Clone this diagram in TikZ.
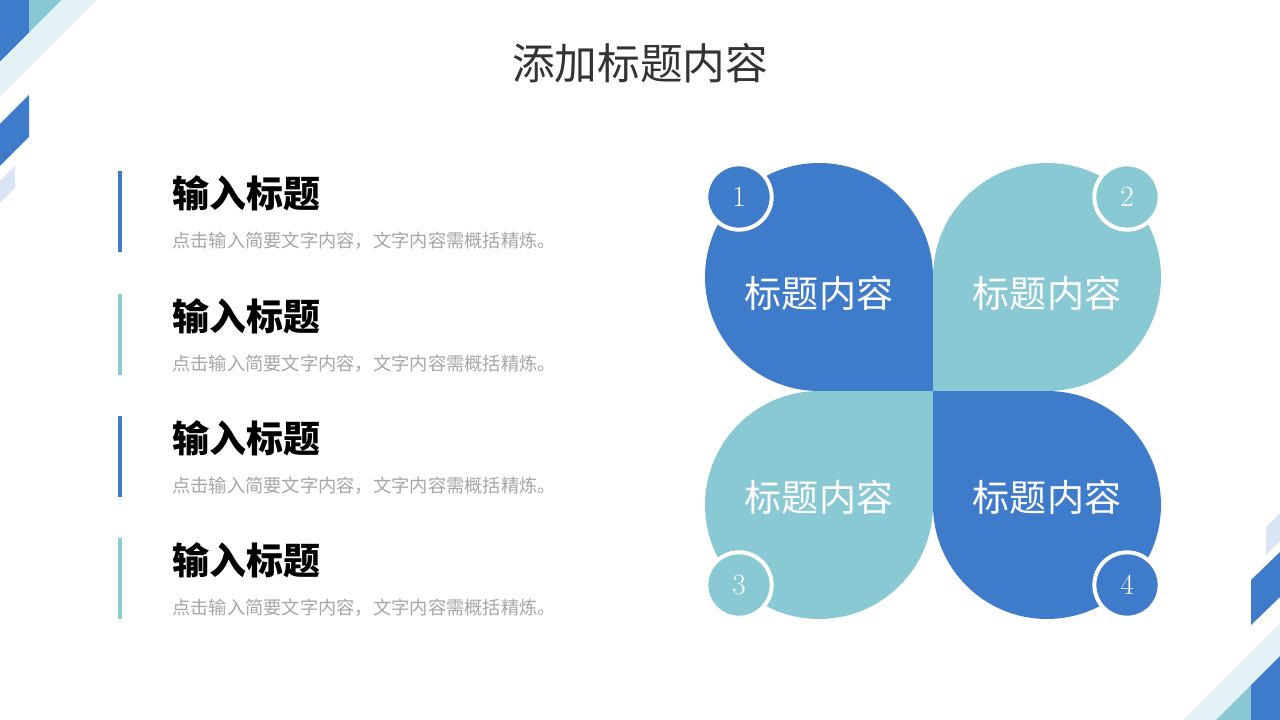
\documentclass[tikz,border=0pt]{standalone}
\usepackage{fontspec}
\newfontfamily\cjk{Noto Sans CJK SC}
\usetikzlibrary{positioning}
\definecolor{petalblue}{HTML}{3F7BCB}
\definecolor{petalteal}{HTML}{89C9D3}
\definecolor{bandlight}{HTML}{E3F2F6}
\definecolor{palebox}{HTML}{D9E4F5}
\definecolor{subgray}{HTML}{A6A6A6}
\definecolor{titlegray}{HTML}{333333}
\tikzset{%
  petaltext/.style = {font=\cjk\fontsize{27.8}{28}\selectfont, text=white},%
  numcirc/.style   = {circle, draw=white, line width=3pt, minimum size=49pt,%
                      inner sep=0pt, text=white, font=\fontsize{22}{22}\selectfont},%
  itemtitle/.style = {anchor=west, inner sep=0pt, text=black,%
                      font=\cjk\bfseries\fontsize{27.7}{28}\selectfont},%
  itemtext/.style  = {anchor=west, inner sep=0pt, text=subgray,%
                      font=\cjk\fontsize{13.7}{14}\selectfont}%
}

\begin{document}
\begin{tikzpicture}[x=0.75pt, y=-0.75pt]
  \useasboundingbox (0,0) rectangle (1280,720);
  \fill[white] (0,0) rectangle (1280,720);
  % corner strips
  \fill[petalblue] (0,0) -- (29,0) -- (29,33) -- (0,62) -- cycle;
  \fill[petalteal] (29,0) -- (62,0) -- (29,33) -- cycle;
  \fill[bandlight] (62,0) -- (97,0) -- (0,97) -- (0,62) -- cycle;
  \fill[petalblue] (0,124) -- (29,95) -- (29,137) -- (0,166) -- cycle;
  \fill[palebox] (0,181) -- (15,166) -- (15,188) -- (0,203) -- cycle;
  \fill[palebox] (1266,527) -- (1280,513) -- (1280,541) -- (1266,555) -- cycle;
  \fill[petalblue] (1251,580) -- (1280,552) -- (1280,597) -- (1251,625) -- cycle;
  \fill[bandlight] (1183,720) -- (1280,623) -- (1280,656) -- (1216,720) -- cycle;
  \fill[petalteal] (1216,720) -- (1251,685) -- (1251,720) -- cycle;
  \fill[petalblue] (1251,685) -- (1280,656) -- (1280,720) -- (1251,720) -- cycle;

  \node (title) at (640,63) [text=titlegray, font=\cjk\fontsize{32}{32}\selectfont] {添加标题内容};

  \foreach \y/\col [count=\i] in {171/petalblue, 294/petalteal, 416/petalblue, 538/petalteal} {
    \fill[\col] (118,\y) rectangle (122,\y+81);
    \node (t\i) [itemtitle] at (172,\y+22) {输入标题};
    \node (s\i) [itemtext] at (172,\y+70) {点击输入简要文字内容，文字内容需概括精炼。};
  }

  % petals
  \fill[petalblue] (819,391) arc[start angle=-90, end angle=-360, radius=85.5pt] -- (933,391) -- cycle;
  \fill[petalteal] (1047,391) arc[start angle=-90, end angle=180, radius=85.5pt] -- (933,391) -- cycle;
  \fill[petalteal] (819,391) arc[start angle=90, end angle=360, radius=85.5pt] -- (933,391) -- cycle;
  \fill[petalblue] (1047,391) arc[start angle=90, end angle=-180, radius=85.5pt] -- (933,391) -- cycle;
  \node (p1) [petaltext] at (819,293) {标题内容};
  \node (p2) [petaltext] at (1047,293) {标题内容};
  \node (p3) [petaltext] at (819,497) {标题内容};
  \node (p4) [petaltext] at (1047,497) {标题内容};

  \node (n1) [numcirc, fill=petalblue] at (739,197) {1};
  \node (n2) [numcirc, fill=petalteal] at (1127,197) {2};
  \node (n3) [numcirc, fill=petalteal] at (739,585) {3};
  \node (n4) [numcirc, fill=petalblue] at (1127,585) {4};
\end{tikzpicture}
\end{document}
